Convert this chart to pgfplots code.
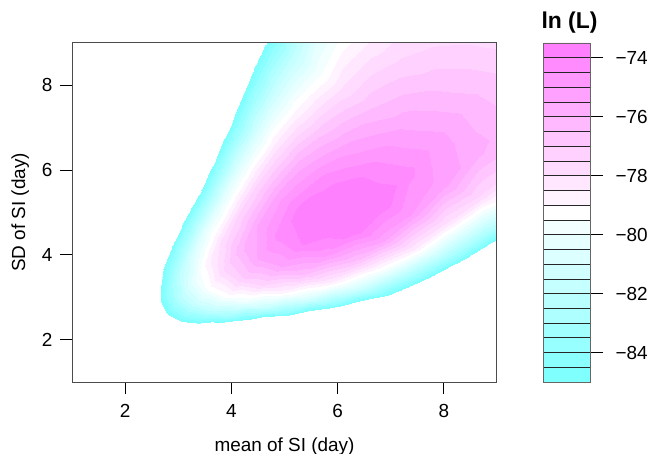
\documentclass[border=0pt]{standalone}
\usepackage{pgfplots}
\pgfplotsset{compat=1.18}
\usepackage{fontspec}
\setmainfont{Liberation Sans}
\definecolor{c0}{rgb}{0.5,1,1}
\definecolor{c1}{rgb}{0.5455,1,1}
\definecolor{c2}{rgb}{0.5909,1,1}
\definecolor{c3}{rgb}{0.6364,1,1}
\definecolor{c4}{rgb}{0.6818,1,1}
\definecolor{c5}{rgb}{0.7273,1,1}
\definecolor{c6}{rgb}{0.7727,1,1}
\definecolor{c7}{rgb}{0.8182,1,1}
\definecolor{c8}{rgb}{0.8636,1,1}
\definecolor{c9}{rgb}{0.9091,1,1}
\definecolor{c10}{rgb}{0.9545,1,1}
\definecolor{c11}{rgb}{1,1,1}
\definecolor{c12}{rgb}{1,0.9545,1}
\definecolor{c13}{rgb}{1,0.9091,1}
\definecolor{c14}{rgb}{1,0.8636,1}
\definecolor{c15}{rgb}{1,0.8182,1}
\definecolor{c16}{rgb}{1,0.7727,1}
\definecolor{c17}{rgb}{1,0.7273,1}
\definecolor{c18}{rgb}{1,0.6818,1}
\definecolor{c19}{rgb}{1,0.6364,1}
\definecolor{c20}{rgb}{1,0.5909,1}
\definecolor{c21}{rgb}{1,0.5455,1}
\definecolor{c22}{rgb}{1,0.5,1}
\begin{document}
\begin{tikzpicture}
\path[use as bounding box] (0,0) rectangle (664bp,454bp);
\begin{axis}[
  at={(72bp,72bp)}, anchor=south west,
  width=425bp, height=339bp, scale only axis,
  xmin=1, xmax=9, ymin=1, ymax=9,
  xtick={2,4,6,8}, ytick={2,4,6,8},
  xticklabels={2,4,6,8}, yticklabels={2,4,6,8},
  tick align=outside, xtick pos=bottom, ytick pos=left,
  major tick length=12bp,
  tick style={black, line width=0.8bp},
  axis line style={black!70, line width=1bp},
  axis on top,
  tick label style={font=\fontsize{19}{22}\selectfont},
  xticklabel style={yshift=-7bp},
  yticklabel style={xshift=-4bp},
  xlabel={mean of SI (day)}, ylabel={SD of SI (day)},
  label style={font=\fontsize{19}{22}\selectfont},
  xlabel style={at={(axis description cs:0.5,-0.19)}, anchor=center},
  ylabel style={at={(axis description cs:-0.122,0.5)}, anchor=center},
  colormap={cmR}{
    rgb=(1,1,1) rgb=(1,1,1) rgb=(1,1,1) rgb=(1,1,1) rgb=(1,1,1) rgb=(1,1,1) rgb=(1,1,1) rgb=(1,1,1)
    rgb=(1,1,1) rgb=(1,1,1) rgb=(1,1,1) rgb=(1,1,1) rgb=(1,1,1) rgb=(1,1,1) rgb=(1,1,1) rgb=(1,1,1)
    rgb=(1,1,1) rgb=(1,1,1) rgb=(1,1,1) rgb=(1,1,1) rgb=(1,1,1) rgb=(1,1,1) rgb=(1,1,1) rgb=(1,1,1)
    rgb=(1,1,1) rgb=(1,1,1) rgb=(1,1,1) rgb=(1,1,1) rgb=(1,1,1) rgb=(1,1,1) rgb=(1,1,1)
    rgb=(0.5,1,1) rgb=(0.5455,1,1) rgb=(0.5909,1,1) rgb=(0.6364,1,1) rgb=(0.6818,1,1) rgb=(0.7273,1,1)
    rgb=(0.7727,1,1) rgb=(0.8182,1,1) rgb=(0.8636,1,1) rgb=(0.9091,1,1) rgb=(0.9545,1,1) rgb=(1,1,1)
    rgb=(1,0.9545,1) rgb=(1,0.9091,1) rgb=(1,0.8636,1) rgb=(1,0.8182,1) rgb=(1,0.7727,1) rgb=(1,0.7273,1)
    rgb=(1,0.6818,1) rgb=(1,0.6364,1) rgb=(1,0.5909,1) rgb=(1,0.5455,1) rgb=(1,0.5,1) rgb=(1,0.5,1)},
  colormap access=piecewise constant,
  point meta min=-100.5, point meta max=-73.5,
]
\addplot[surf, shader=interp, mesh/cols=15, point meta=\thisrow{L}] table[x=m, y=s] {
m s L
1.85 2.80 -96.19
2.01 2.66 -92.91
2.19 2.53 -90.48
2.39 2.41 -88.92
2.61 2.29 -88.21
2.84 2.17 -88.40
3.09 2.06 -89.58
3.37 1.96 -91.76
3.67 1.86 -94.94
4.00 1.77 -99.12
4.36 1.68 -104.30
4.75 1.60 -110.48
5.18 1.52 -117.66
5.65 1.44 -125.84
6.15 1.37 -135.02

1.99 3.19 -94.56
2.17 3.03 -90.91
2.37 2.88 -88.13
2.58 2.74 -86.20
2.81 2.60 -85.14
3.07 2.47 -84.93
3.34 2.35 -85.69
3.64 2.23 -87.45
3.97 2.12 -90.21
4.32 2.01 -93.97
4.71 1.91 -98.73
5.13 1.82 -104.49
5.59 1.73 -111.25
6.10 1.64 -119.01
6.64 1.56 -127.77

2.15 3.63 -93.46
2.35 3.45 -89.45
2.56 3.28 -86.30
2.79 3.11 -84.02
3.04 2.96 -82.59
3.31 2.81 -82.02
3.61 2.67 -82.36
3.93 2.54 -83.70
4.28 2.41 -86.04
4.67 2.29 -89.38
5.09 2.18 -93.72
5.54 2.07 -99.06
6.04 1.96 -105.40
6.58 1.87 -112.74
7.17 1.77 -121.08

2.33 4.13 -92.92
2.53 3.92 -88.55
2.76 3.73 -85.04
3.01 3.54 -82.39
3.28 3.36 -80.60
3.57 3.20 -79.67
3.89 3.04 -79.61
4.24 2.89 -80.42
4.62 2.74 -82.11
5.04 2.61 -84.68
5.49 2.48 -88.13
5.98 2.35 -92.46
6.52 2.23 -97.67
7.11 2.12 -103.76
7.74 2.02 -110.73

2.51 4.70 -92.91
2.74 4.46 -88.18
2.98 4.24 -84.31
3.25 4.03 -81.30
3.54 3.83 -79.15
3.86 3.64 -77.86
4.21 3.46 -77.43
4.58 3.28 -77.87
4.99 3.12 -79.19
5.44 2.96 -81.39
5.93 2.82 -84.47
6.46 2.68 -88.43
7.04 2.54 -93.27
7.67 2.42 -98.99
8.36 2.29 -105.59

2.71 5.34 -93.45
2.95 5.08 -88.36
3.22 4.82 -84.13
3.51 4.58 -80.76
3.82 4.35 -78.25
4.17 4.14 -76.60
4.54 3.93 -75.81
4.95 3.73 -75.89
5.39 3.55 -76.90
5.88 3.37 -78.86
6.40 3.20 -81.75
6.98 3.04 -85.59
7.60 2.89 -90.36
8.29 2.75 -96.08
9.03 2.61 -102.74

2.93 6.08 -94.56
3.19 5.77 -89.11
3.48 5.49 -84.51
3.79 5.21 -80.78
4.13 4.95 -77.91
4.50 4.71 -75.90
4.90 4.47 -74.74
5.34 4.25 -74.45
5.82 4.04 -75.21
6.34 3.84 -77.10
6.91 3.64 -80.13
7.53 3.46 -84.31
8.21 3.29 -89.62
8.95 3.13 -96.07
9.75 2.97 -103.66

3.16 6.91 -94.71
3.44 6.57 -89.31
3.75 6.24 -84.70
4.09 5.93 -80.89
4.46 5.63 -77.88
4.86 5.35 -75.67
5.29 5.09 -74.27
5.77 4.83 -73.66
6.29 4.59 -74.01
6.85 4.36 -75.75
7.46 4.15 -78.89
8.13 3.94 -83.42
8.86 3.74 -89.36
9.66 3.56 -96.69
10.53 3.38 -105.43

3.41 7.86 -94.04
3.72 7.47 -89.08
4.05 7.10 -84.82
4.42 6.75 -81.25
4.81 6.41 -78.39
5.24 6.09 -76.23
5.72 5.79 -74.77
6.23 5.50 -74.00
6.79 5.22 -74.01
7.40 4.96 -75.47
8.06 4.72 -78.53
8.78 4.48 -83.18
9.57 4.26 -89.44
10.43 4.04 -97.29
11.37 3.84 -106.75

3.69 8.95 -92.78
4.02 8.50 -88.50
4.38 8.08 -84.80
4.77 7.67 -81.68
5.20 7.29 -79.15
5.66 6.93 -77.19
6.17 6.58 -75.81
6.73 6.25 -75.01
7.33 5.94 -74.80
7.99 5.65 -75.70
8.70 5.36 -78.04
9.48 5.10 -81.82
10.33 4.84 -87.04
11.26 4.60 -93.70
12.27 4.37 -101.80

3.98 10.18 -92.43
4.34 9.67 -88.60
4.73 9.19 -85.27
5.15 8.73 -82.44
5.61 8.29 -80.11
6.11 7.88 -78.28
6.66 7.49 -76.95
7.26 7.11 -76.12
7.91 6.76 -75.79
8.62 6.42 -76.20
9.40 6.10 -77.81
10.24 5.80 -80.62
11.16 5.51 -84.63
12.16 5.23 -89.84
13.25 4.97 -96.24

4.30 11.58 -88.91
4.68 11.00 -86.21
5.10 10.45 -83.85
5.56 9.93 -81.83
6.06 9.43 -80.15
6.60 8.96 -78.81
7.19 8.52 -77.81
7.84 8.09 -77.14
8.54 7.69 -76.82
9.31 7.31 -76.96
10.15 6.94 -78.12
11.06 6.60 -80.38
12.05 6.27 -83.74
13.13 5.95 -88.20
14.31 5.66 -93.76

4.64 13.17 -86.18
5.06 12.51 -84.37
5.51 11.89 -82.78
6.00 11.30 -81.41
6.54 10.73 -80.26
7.13 10.20 -79.33
7.77 9.69 -78.62
8.47 9.21 -78.13
9.23 8.75 -77.86
10.05 8.31 -77.84
10.96 7.90 -78.69
11.94 7.50 -80.63
13.01 7.13 -83.68
14.18 6.77 -87.83
15.45 6.44 -93.08

5.01 14.98 -86.94
5.46 14.23 -85.23
5.95 13.52 -83.73
6.48 12.85 -82.43
7.06 12.21 -81.33
7.70 11.60 -80.42
8.39 11.02 -79.72
9.14 10.47 -79.22
9.96 9.95 -78.91
10.85 9.45 -78.81
11.83 8.98 -79.34
12.89 8.53 -80.98
14.05 8.11 -83.71
15.31 7.70 -87.54
16.68 7.32 -92.48
};
\end{axis}
\begin{axis}[
  at={(543bp,72bp)}, anchor=south west,
  width=47bp, height=339bp, scale only axis,
  xmin=0, xmax=1, ymin=-85, ymax=-73.5,
  xtick=\empty,
  ytick={-84,-82,-80,-78,-76,-74},
  yticklabels={−84,−82,−80,−78,−76,−74},
  ytick pos=right, yticklabel pos=right,
  tick align=outside, major tick length=13bp,
  tick style={black, line width=0.8bp},
  axis line style={black!60, line width=0.8bp},
  axis on top,
  yticklabel style={font=\fontsize{19}{22}\selectfont, xshift=9bp},
  title={\bfseries ln (L)},
  title style={font=\fontsize{23}{26}\selectfont, at={(axis description cs:0.5,1)}, anchor=center, yshift=14bp, xshift=3bp},
]
\addplot[fill=c0, draw=black!85, line width=0.6bp] coordinates {(0,-85) (1,-85) (1,-84.5) (0,-84.5) (0,-85)};
\addplot[fill=c1, draw=black!85, line width=0.6bp] coordinates {(0,-84.5) (1,-84.5) (1,-84) (0,-84) (0,-84.5)};
\addplot[fill=c2, draw=black!85, line width=0.6bp] coordinates {(0,-84) (1,-84) (1,-83.5) (0,-83.5) (0,-84)};
\addplot[fill=c3, draw=black!85, line width=0.6bp] coordinates {(0,-83.5) (1,-83.5) (1,-83) (0,-83) (0,-83.5)};
\addplot[fill=c4, draw=black!85, line width=0.6bp] coordinates {(0,-83) (1,-83) (1,-82.5) (0,-82.5) (0,-83)};
\addplot[fill=c5, draw=black!85, line width=0.6bp] coordinates {(0,-82.5) (1,-82.5) (1,-82) (0,-82) (0,-82.5)};
\addplot[fill=c6, draw=black!85, line width=0.6bp] coordinates {(0,-82) (1,-82) (1,-81.5) (0,-81.5) (0,-82)};
\addplot[fill=c7, draw=black!85, line width=0.6bp] coordinates {(0,-81.5) (1,-81.5) (1,-81) (0,-81) (0,-81.5)};
\addplot[fill=c8, draw=black!85, line width=0.6bp] coordinates {(0,-81) (1,-81) (1,-80.5) (0,-80.5) (0,-81)};
\addplot[fill=c9, draw=black!85, line width=0.6bp] coordinates {(0,-80.5) (1,-80.5) (1,-80) (0,-80) (0,-80.5)};
\addplot[fill=c10, draw=black!85, line width=0.6bp] coordinates {(0,-80) (1,-80) (1,-79.5) (0,-79.5) (0,-80)};
\addplot[fill=c11, draw=black!85, line width=0.6bp] coordinates {(0,-79.5) (1,-79.5) (1,-79) (0,-79) (0,-79.5)};
\addplot[fill=c12, draw=black!85, line width=0.6bp] coordinates {(0,-79) (1,-79) (1,-78.5) (0,-78.5) (0,-79)};
\addplot[fill=c13, draw=black!85, line width=0.6bp] coordinates {(0,-78.5) (1,-78.5) (1,-78) (0,-78) (0,-78.5)};
\addplot[fill=c14, draw=black!85, line width=0.6bp] coordinates {(0,-78) (1,-78) (1,-77.5) (0,-77.5) (0,-78)};
\addplot[fill=c15, draw=black!85, line width=0.6bp] coordinates {(0,-77.5) (1,-77.5) (1,-77) (0,-77) (0,-77.5)};
\addplot[fill=c16, draw=black!85, line width=0.6bp] coordinates {(0,-77) (1,-77) (1,-76.5) (0,-76.5) (0,-77)};
\addplot[fill=c17, draw=black!85, line width=0.6bp] coordinates {(0,-76.5) (1,-76.5) (1,-76) (0,-76) (0,-76.5)};
\addplot[fill=c18, draw=black!85, line width=0.6bp] coordinates {(0,-76) (1,-76) (1,-75.5) (0,-75.5) (0,-76)};
\addplot[fill=c19, draw=black!85, line width=0.6bp] coordinates {(0,-75.5) (1,-75.5) (1,-75) (0,-75) (0,-75.5)};
\addplot[fill=c20, draw=black!85, line width=0.6bp] coordinates {(0,-75) (1,-75) (1,-74.5) (0,-74.5) (0,-75)};
\addplot[fill=c21, draw=black!85, line width=0.6bp] coordinates {(0,-74.5) (1,-74.5) (1,-74) (0,-74) (0,-74.5)};
\addplot[fill=c22, draw=black!85, line width=0.6bp] coordinates {(0,-74) (1,-74) (1,-73.5) (0,-73.5) (0,-74)};
\end{axis}
\end{tikzpicture}
\end{document}
